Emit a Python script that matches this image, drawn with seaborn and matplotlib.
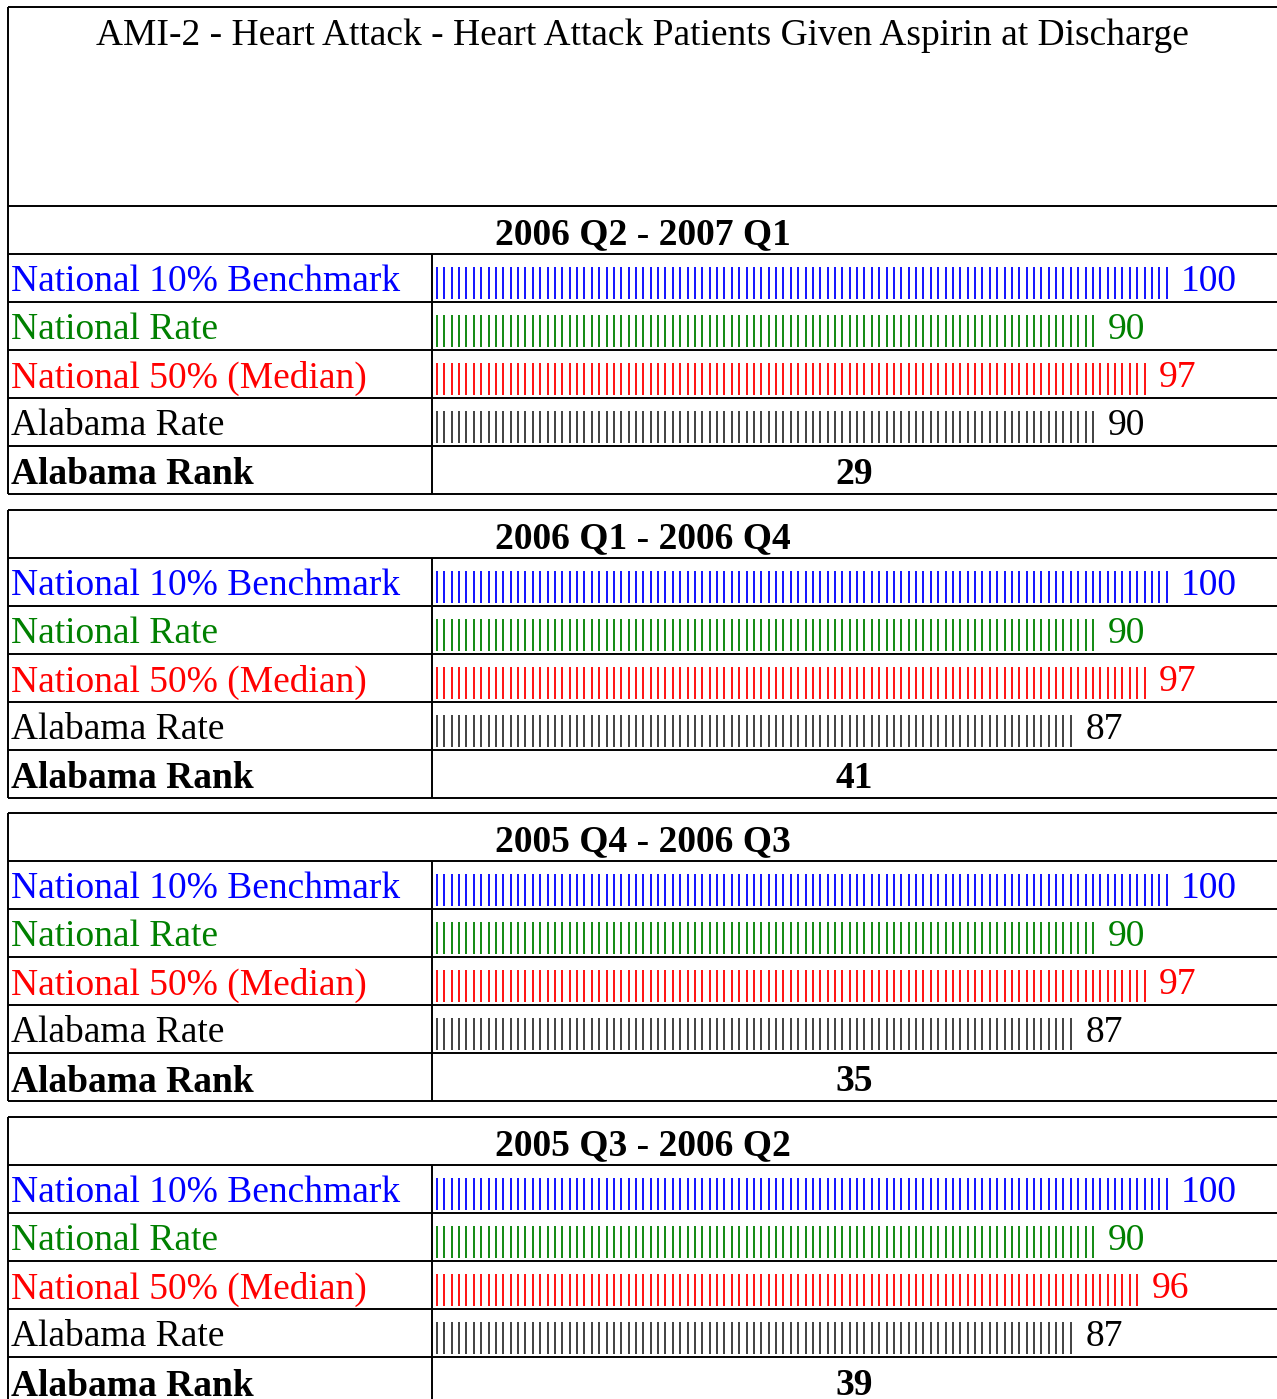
import numpy as np
import pandas as pd
import matplotlib
matplotlib.use("Agg")
import matplotlib.pyplot as plt
import seaborn as sns

# data
title = "AMI-2 - Heart Attack - Heart Attack Patients Given Aspirin at Discharge"
periods = ["2006 Q2 - 2007 Q1", "2006 Q1 - 2006 Q4", "2005 Q4 - 2006 Q3", "2005 Q3 - 2006 Q2"]
row_labels = ["National 10% Benchmark", "National Rate", "National 50% (Median)", "Alabama Rate"]
benchmark = [100, 100, 100, 100]
national_rate = [90, 90, 90, 90]
national_median = [97, 97, 97, 96]
alabama_rate = [90, 87, 87, 87]
alabama_rank = [29, 41, 35, 39]

text_colors = ["#0000ff", "#008000", "#ff0000", "#000000"]
bar_colors = ["#0000ff", "#008000", "#ff0000", "#333333"]

sns.set_theme(style="white")
plt.rcParams["font.family"] = ["Liberation Serif", "DejaVu Serif"]

W, H = 1277, 1399
fig = plt.figure(figsize=(W / 100, H / 100), dpi=100)
fig.patch.set_facecolor("white")

# page axes in pixel units for the table frame and labels
page = fig.add_axes([0, 0, 1, 1])
page.set_xlim(0, W)
page.set_ylim(H, 0)
page.axis("off")

fs = 27
lw = 1.4
row_h = 48
block_tops = [206, 510, 813, 1117]
left_x, div_x = 8, 432

# title cell
page.hlines(7, left_x, W, color="black", lw=lw)
page.vlines(left_x, 7, block_tops[0], color="black", lw=lw)
page.text((left_x + W) / 2, 36, title, ha="center", va="center", fontsize=fs, color="black")

series = [benchmark, national_rate, national_median, alabama_rate]

for b, top in enumerate(block_tops):
    bottom = top + row_h * 6
    for k in range(7):
        page.hlines(top + k * row_h, left_x, W, color="black", lw=lw)
    page.vlines(left_x, top, bottom, color="black", lw=lw)
    page.vlines(div_x, top + row_h, bottom, color="black", lw=lw)
    page.text((left_x + W) / 2, top + row_h / 2 + 5, periods[b], ha="center", va="center",
              fontsize=fs, fontweight="bold", color="black")
    for r, lab in enumerate(row_labels):
        page.text(11, top + row_h * (r + 1.5) + 4, lab, ha="left", va="center",
                  fontsize=fs, color=text_colors[r])
    page.text(11, top + row_h * 5.5 + 5, "Alabama Rank", ha="left", va="center",
              fontsize=fs, fontweight="bold", color="black")

    # bar area for this block, one unit per tick mark
    ax = fig.add_axes([div_x / W, 1 - (top + row_h * 6) / H, (W - div_x) / W, row_h * 5 / H])
    ax.axis("off")
    rows = []
    for r in range(4):
        v = series[r][b]
        for t in range(1, v + 1):
            rows.append({"tick": t, "row": r + 0.1, "series": row_labels[r]})
    df = pd.DataFrame(rows)
    sns.scatterplot(data=df, x="tick", y="row", hue="series", palette=dict(zip(row_labels, bar_colors)),
                    marker="|", s=540, linewidth=1.3, legend=False, ax=ax)
    ax.set_xlim(0.3216, 114.97)
    ax.set_ylim(4.5, -0.5)
    for r in range(4):
        v = series[r][b]
        ax.text(v + 1.95, r + 0.08, str(v), ha="left", va="center", fontsize=fs, color=text_colors[r])
    ax.text(np.mean(ax.get_xlim()), 4.1, str(alabama_rank[b]),
            ha="center", va="center", fontsize=fs, fontweight="bold", color="black")

fig.savefig("out.png", dpi=100, facecolor="white")
